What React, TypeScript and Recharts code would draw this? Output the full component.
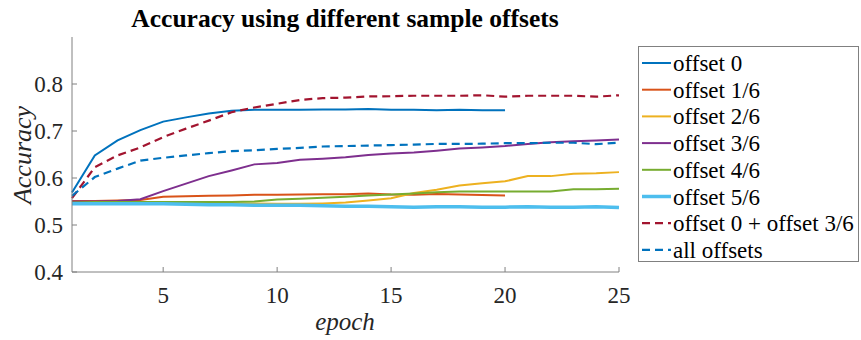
import React from 'react';
import { LineChart, Line, XAxis, YAxis } from 'recharts';

// values
const epochs = [1, 2, 3, 4, 5, 6, 7, 8, 9, 10, 11, 12, 13, 14, 15, 16, 17, 18, 19, 20, 21, 22, 23, 24, 25];
const offset0 = [0.569, 0.648, 0.68, 0.702, 0.72, 0.729, 0.737, 0.743, 0.745, 0.745, 0.745, 0.746, 0.746, 0.747, 0.745, 0.745, 0.744, 0.745, 0.744, 0.744];
const offset16 = [0.551, 0.551, 0.552, 0.553, 0.56, 0.561, 0.562, 0.563, 0.5645, 0.5645, 0.565, 0.5655, 0.5655, 0.567, 0.565, 0.5645, 0.566, 0.565, 0.564, 0.563];
const offset26 = [0.547, 0.547, 0.547, 0.547, 0.547, 0.546, 0.546, 0.546, 0.546, 0.545, 0.545, 0.546, 0.548, 0.552, 0.557, 0.568, 0.575, 0.584, 0.589, 0.593, 0.604, 0.604, 0.609, 0.61, 0.6125];
const offset36 = [0.55, 0.55, 0.551, 0.555, 0.572, 0.588, 0.604, 0.616, 0.629, 0.632, 0.639, 0.641, 0.644, 0.649, 0.652, 0.654, 0.658, 0.663, 0.665, 0.668, 0.6725, 0.676, 0.678, 0.68, 0.682];
const offset46 = [0.548, 0.549, 0.549, 0.549, 0.549, 0.549, 0.549, 0.549, 0.55, 0.554, 0.556, 0.558, 0.56, 0.563, 0.565, 0.567, 0.5695, 0.5715, 0.5715, 0.5715, 0.5715, 0.5715, 0.576, 0.576, 0.577];
const offset56 = [0.545, 0.545, 0.545, 0.545, 0.545, 0.544, 0.543, 0.543, 0.542, 0.542, 0.542, 0.541, 0.54, 0.54, 0.539, 0.538, 0.539, 0.539, 0.538, 0.538, 0.539, 0.538, 0.538, 0.539, 0.537];
const offset0p36 = [0.557, 0.623, 0.648, 0.665, 0.687, 0.705, 0.722, 0.74, 0.75, 0.758, 0.766, 0.77, 0.771, 0.7735, 0.774, 0.775, 0.775, 0.775, 0.776, 0.773, 0.775, 0.775, 0.775, 0.773, 0.776];
const allOffsets = [0.562, 0.602, 0.62, 0.637, 0.643, 0.648, 0.653, 0.657, 0.659, 0.662, 0.664, 0.667, 0.668, 0.669, 0.67, 0.671, 0.6725, 0.6725, 0.673, 0.674, 0.674, 0.675, 0.675, 0.672, 0.675];

const xTicks = [5, 10, 15, 20, 25];
const yTicks = [0.4, 0.5, 0.6, 0.7, 0.8];

const series = [
  { key: 'o0', name: 'offset 0', values: offset0, color: '#0072BD', width: 2, dash: undefined },
  { key: 'o16', name: 'offset 1/6', values: offset16, color: '#D95319', width: 2, dash: undefined },
  { key: 'o26', name: 'offset 2/6', values: offset26, color: '#EDB120', width: 2, dash: undefined },
  { key: 'o36', name: 'offset 3/6', values: offset36, color: '#7E2F8E', width: 2, dash: undefined },
  { key: 'o46', name: 'offset 4/6', values: offset46, color: '#77AC30', width: 2, dash: undefined },
  { key: 'o56', name: 'offset 5/6', values: offset56, color: '#4DBEEE', width: 3.5, dash: undefined },
  { key: 'o0p36', name: 'offset 0 + offset 3/6', values: offset0p36, color: '#A2142F', width: 2.2, dash: '8 5' },
  { key: 'all', name: 'all offsets', values: allOffsets, color: '#0072BD', width: 2.2, dash: '8 5' },
];

const data = epochs.map((epoch, i) => {
  const row: Record<string, number | undefined> = { epoch };
  series.forEach((s) => {
    row[s.key] = s.values[i];
  });
  return row;
});

const FONT = '"Liberation Serif", "Times New Roman", serif';
const TEXT = '#262626';
const AXIS = '#808080';

const tickStyle = { fontFamily: FONT, fontSize: 23, fill: TEXT };
const NoTick = () => <g />;

const App = () => {
  return (
    <div
      style={{
        position: 'absolute',
        left: 0,
        top: 0,
        width: 861,
        height: 340,
        background: '#fff',
        fontFamily: FONT,
      }}
    >
      <LineChart
        width={861}
        height={340}
        data={data}
        margin={{ top: 37, right: 242, bottom: 0, left: 0 }}
        style={{ fontFamily: FONT }}
      >
        <XAxis
          dataKey="epoch"
          type="number"
          domain={[1, 25]}
          ticks={xTicks}
          height={68}
          tick={tickStyle}
          tickSize={-5}
          tickMargin={20}
          stroke={AXIS}
        />
        <XAxis
          xAxisId="top"
          orientation="top"
          type="number"
          domain={[1, 25]}
          ticks={xTicks}
          height={0}
          tick={NoTick}
          tickSize={-5}
          stroke={AXIS}
        />
        <YAxis
          type="number"
          domain={[0.4, 0.9]}
          ticks={yTicks}
          width={72}
          tick={tickStyle}
          tickFormatter={(v: number) => v.toFixed(1)}
          tickSize={-5}
          tickMargin={14}
          stroke={AXIS}
        />
        <YAxis
          yAxisId="right"
          orientation="right"
          type="number"
          domain={[0.4, 0.9]}
          ticks={yTicks}
          width={0}
          tick={NoTick}
          tickSize={-5}
          stroke={AXIS}
        />
        {series.map((s) => (
          <Line
            key={s.key}
            dataKey={s.key}
            name={s.name}
            type="linear"
            stroke={s.color}
            strokeWidth={s.width}
            strokeDasharray={s.dash}
            dot={false}
            activeDot={false}
            isAnimationActive={false}
          />
        ))}
      </LineChart>
      <svg
        width={861}
        height={340}
        style={{ position: 'absolute', left: 0, top: 0, pointerEvents: 'none', fontFamily: FONT }}
      >
        <text x={345} y={27} textAnchor="middle" fontSize={25.5} fontWeight="bold" fill="#000">
          Accuracy using different sample offsets
        </text>
        <text x={345} y={330} textAnchor="middle" fontSize={25} fontStyle="italic" fill={TEXT}>
          epoch
        </text>
        <text
          x={0}
          y={0}
          transform="translate(31,155) rotate(-90)"
          textAnchor="middle"
          fontSize={26}
          fontStyle="italic"
          fill={TEXT}
        >
          Accuracy
        </text>
        <rect x={638.5} y={46.5} width={220} height={215} fill="#fff" stroke={AXIS} strokeWidth={1} />
        {series.map((s, i) => {
          const y = 63 + i * 26.7;
          return (
            <g key={s.key}>
              <line x1={642} x2={671} y1={y} y2={y} stroke={s.color} strokeWidth={s.width} strokeDasharray={s.dash} />
              <text x={673} y={y} dy="0.35em" fontSize={23} fill="#000">
                {s.name}
              </text>
            </g>
          );
        })}
      </svg>
    </div>
  );
};

export default App;
